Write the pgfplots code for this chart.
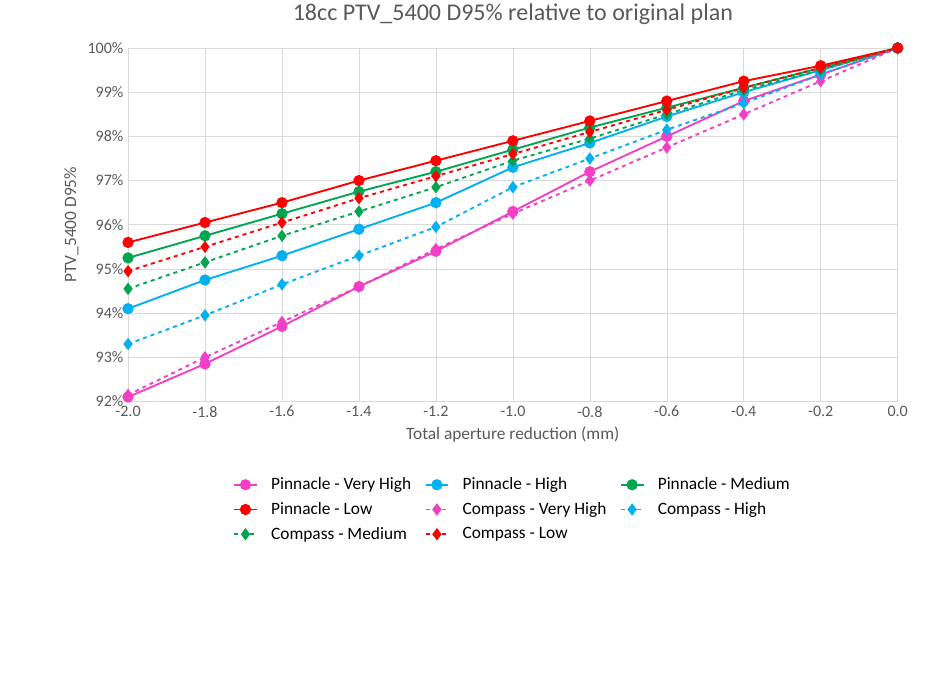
\documentclass[border=0pt]{standalone}
\usepackage{pgfplots}
\pgfplotsset{compat=1.18}
\usepackage{fontspec}
\setmainfont{Carlito}
\definecolor{cmag}{HTML}{F23FC6}
\definecolor{cblu}{HTML}{00B0F0}
\definecolor{cgrn}{HTML}{00A550}
\definecolor{cred}{HTML}{FF0000}
\definecolor{cgrid}{HTML}{D9D9D9}
\definecolor{ctxt}{HTML}{595959}
\begin{document}
\begin{tikzpicture}
\path[use as bounding box] (-96pt,-204pt) rectangle (599pt,301pt);
\begin{axis}[scale only axis, width=577pt, height=265pt,
 xmin=-2, xmax=0, ymin=92, ymax=100,
 xtick={-2,-1.8,...,0}, ytick={92,93,...,100},
 xticklabel style={/pgf/number format/.cd,fixed,fixed zerofill,precision=1},
 yticklabel={\pgfmathprintnumber{\tick}\%},
 /pgf/number format/assume math mode=true,
 grid=major, grid style={cgrid},
 axis line style={draw=none}, tick style={draw=none},
 ticklabel style={font=\fontsize{12}{14}\selectfont, text=ctxt},
 xlabel={Total aperture reduction (mm)}, ylabel={PTV\_5400 D95\%},
 label style={font=\fontsize{13}{15}\selectfont, text=ctxt},
 title={18cc PTV\_5400 D95\% relative to original plan},
 title style={font=\fontsize{18}{20}\selectfont, text=ctxt, yshift=8pt},
 legend style={at={(0.5,-0.2)}, anchor=north, draw=none, font=\fontsize{13}{15}\selectfont, column sep=8pt, row sep=4pt},
 legend columns=3, legend cell align=left,
 every axis plot/.append style={line width=1.4pt, mark size=3.5pt},
]
\addplot[cmag, mark=*] coordinates {(-2,92.1)(-1.8,92.85)(-1.6,93.7)(-1.4,94.6)(-1.2,95.4)(-1,96.3)(-0.8,97.2)(-0.6,98.0)(-0.4,98.8)(-0.2,99.4)(0,100)};
\addplot[cblu, mark=*] coordinates {(-2,94.1)(-1.8,94.75)(-1.6,95.3)(-1.4,95.9)(-1.2,96.5)(-1,97.3)(-0.8,97.85)(-0.6,98.45)(-0.4,99.0)(-0.2,99.5)(0,100)};
\addplot[cgrn, mark=*] coordinates {(-2,95.25)(-1.8,95.75)(-1.6,96.25)(-1.4,96.75)(-1.2,97.2)(-1,97.7)(-0.8,98.2)(-0.6,98.65)(-0.4,99.1)(-0.2,99.55)(0,100)};
\addplot[cred, mark=*] coordinates {(-2,95.6)(-1.8,96.05)(-1.6,96.5)(-1.4,97.0)(-1.2,97.45)(-1,97.9)(-0.8,98.35)(-0.6,98.8)(-0.4,99.25)(-0.2,99.6)(0,100)};
\addplot[cmag, dashed, mark=diamond*, mark options={solid}] coordinates {(-2,92.15)(-1.8,93.0)(-1.6,93.8)(-1.4,94.6)(-1.2,95.45)(-1,96.25)(-0.8,97.0)(-0.6,97.75)(-0.4,98.5)(-0.2,99.25)(0,100)};
\addplot[cblu, dashed, mark=diamond*, mark options={solid}] coordinates {(-2,93.3)(-1.8,93.95)(-1.6,94.65)(-1.4,95.3)(-1.2,95.95)(-1,96.85)(-0.8,97.5)(-0.6,98.15)(-0.4,98.75)(-0.2,99.4)(0,100)};
\addplot[cgrn, dashed, mark=diamond*, mark options={solid}] coordinates {(-2,94.55)(-1.8,95.15)(-1.6,95.75)(-1.4,96.3)(-1.2,96.85)(-1,97.45)(-0.8,97.95)(-0.6,98.5)(-0.4,99.05)(-0.2,99.5)(0,100)};
\addplot[cred, dashed, mark=diamond*, mark options={solid}] coordinates {(-2,94.95)(-1.8,95.5)(-1.6,96.05)(-1.4,96.6)(-1.2,97.1)(-1,97.6)(-0.8,98.1)(-0.6,98.6)(-0.4,99.1)(-0.2,99.55)(0,100)};
\legend{Pinnacle - Very High, Pinnacle - High, Pinnacle - Medium, Pinnacle - Low, Compass - Very High, Compass - High, Compass - Medium, Compass - Low}
\end{axis}
\end{tikzpicture}
\end{document}
